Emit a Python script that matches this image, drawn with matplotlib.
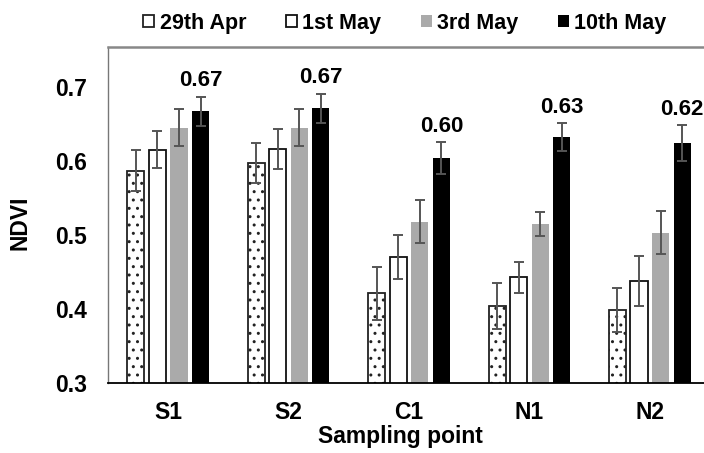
import matplotlib
matplotlib.use("Agg")
import matplotlib.pyplot as plt
from matplotlib.patches import Patch
import numpy as np

plt.rcParams['font.family'] = ['Liberation Sans', 'DejaVu Sans']
plt.rcParams['font.weight'] = 'bold'
plt.rcParams['hatch.linewidth'] = 1.0

categories = ["S1", "S2", "C1", "N1", "N2"]
series_names = ["29th Apr", "1st May", "3rd May", "10th May"]
apr29 = [0.587, 0.597, 0.421, 0.404, 0.399]
may1 = [0.615, 0.616, 0.470, 0.443, 0.438]
may3 = [0.645, 0.645, 0.518, 0.515, 0.503]
may10 = [0.667, 0.671, 0.604, 0.632, 0.624]
err_apr29 = [0.028, 0.027, 0.036, 0.031, 0.030]
err_may1 = [0.025, 0.027, 0.030, 0.021, 0.034]
err_may3 = [0.025, 0.025, 0.029, 0.016, 0.029]
err_may10 = [0.020, 0.020, 0.021, 0.019, 0.024]
peak_labels = ["0.67", "0.67", "0.60", "0.63", "0.62"]
yticks = [0.3, 0.4, 0.5, 0.6, 0.7]

fig = plt.figure(figsize=(7.04, 4.53), dpi=100)
ax = fig.add_axes([108/704, (453-383)/453, (710-108)/704, (383-47)/453])

x = np.arange(len(categories))
w = 0.142
step = 0.179
vals = [apr29, may1, may3, may10]
errs = [err_apr29, err_may1, err_may3, err_may10]
styles = [
    dict(facecolor='white', edgecolor='#222222', linewidth=1.3, hatch='..'),
    dict(facecolor='white', edgecolor='#111111', linewidth=1.3),
    dict(facecolor='#aaaaaa', edgecolor='#aaaaaa', linewidth=0.0),
    dict(facecolor='black', edgecolor='black', linewidth=0.0),
]
for i, (v, e, st) in enumerate(zip(vals, errs, styles)):
    ax.bar(x + (i - 1.5) * step, v, width=w, yerr=e, label=series_names[i],
           error_kw=dict(ecolor='#555555', elinewidth=1.4, capsize=3.5, capthick=1.4),
           zorder=2, **st)

for xi, v, e, lab in zip(x + 1.5 * step, may10, err_may10, peak_labels):
    ax.annotate(lab, (xi, v + e), xytext=(0, 7.5), textcoords='offset points',
                ha='center', va='baseline', fontsize=16, fontweight='bold')

ax.set_xlim(-0.5, 4.5)
ax.set_ylim(0.3, 0.754)
ax.set_yticks(yticks)
ax.set_yticklabels([f"{t:.1f}" for t in yticks])
ax.set_xticks(x)
ax.set_xticklabels(categories)
ax.tick_params(axis='both', length=0, labelsize=16.5)
ax.tick_params(axis='y', pad=15)
ax.tick_params(axis='x', pad=13)
for lbl in ax.get_xticklabels() + ax.get_yticklabels():
    lbl.set_fontweight('bold')

ax.spines['right'].set_visible(False)
ax.spines['left'].set_color('#777777')
ax.spines['left'].set_linewidth(1.0)
ax.spines['bottom'].set_color('black')
ax.spines['bottom'].set_linewidth(1.3)
ax.spines['top'].set_color('#888888')
ax.spines['top'].set_linewidth(1.8)

fig.text(400/704, 1 - 437/453, "Sampling point", ha='center', va='center',
         fontsize=16.5, fontweight='bold')
fig.text(20/704, 1 - 223/453, "NDVI", ha='center', va='center', rotation=90,
         fontsize=16.5, fontweight='bold')

handles = [
    Patch(facecolor='white', edgecolor='#222222', linewidth=1.3),
    Patch(facecolor='white', edgecolor='#111111', linewidth=1.3),
    Patch(facecolor='#aaaaaa', edgecolor='#aaaaaa', linewidth=0.0),
    Patch(facecolor='black', edgecolor='black', linewidth=0.0),
]
fig.legend(handles=handles, labels=series_names, loc='center', ncol=4,
           bbox_to_anchor=(405/704, 1 - 23/453), frameon=False,
           prop=dict(size=15.5, weight='bold'), handlelength=0.5, handleheight=0.5,
           handletextpad=0.25, columnspacing=1.85, borderaxespad=0)

fig.savefig("out.png", dpi=100)
